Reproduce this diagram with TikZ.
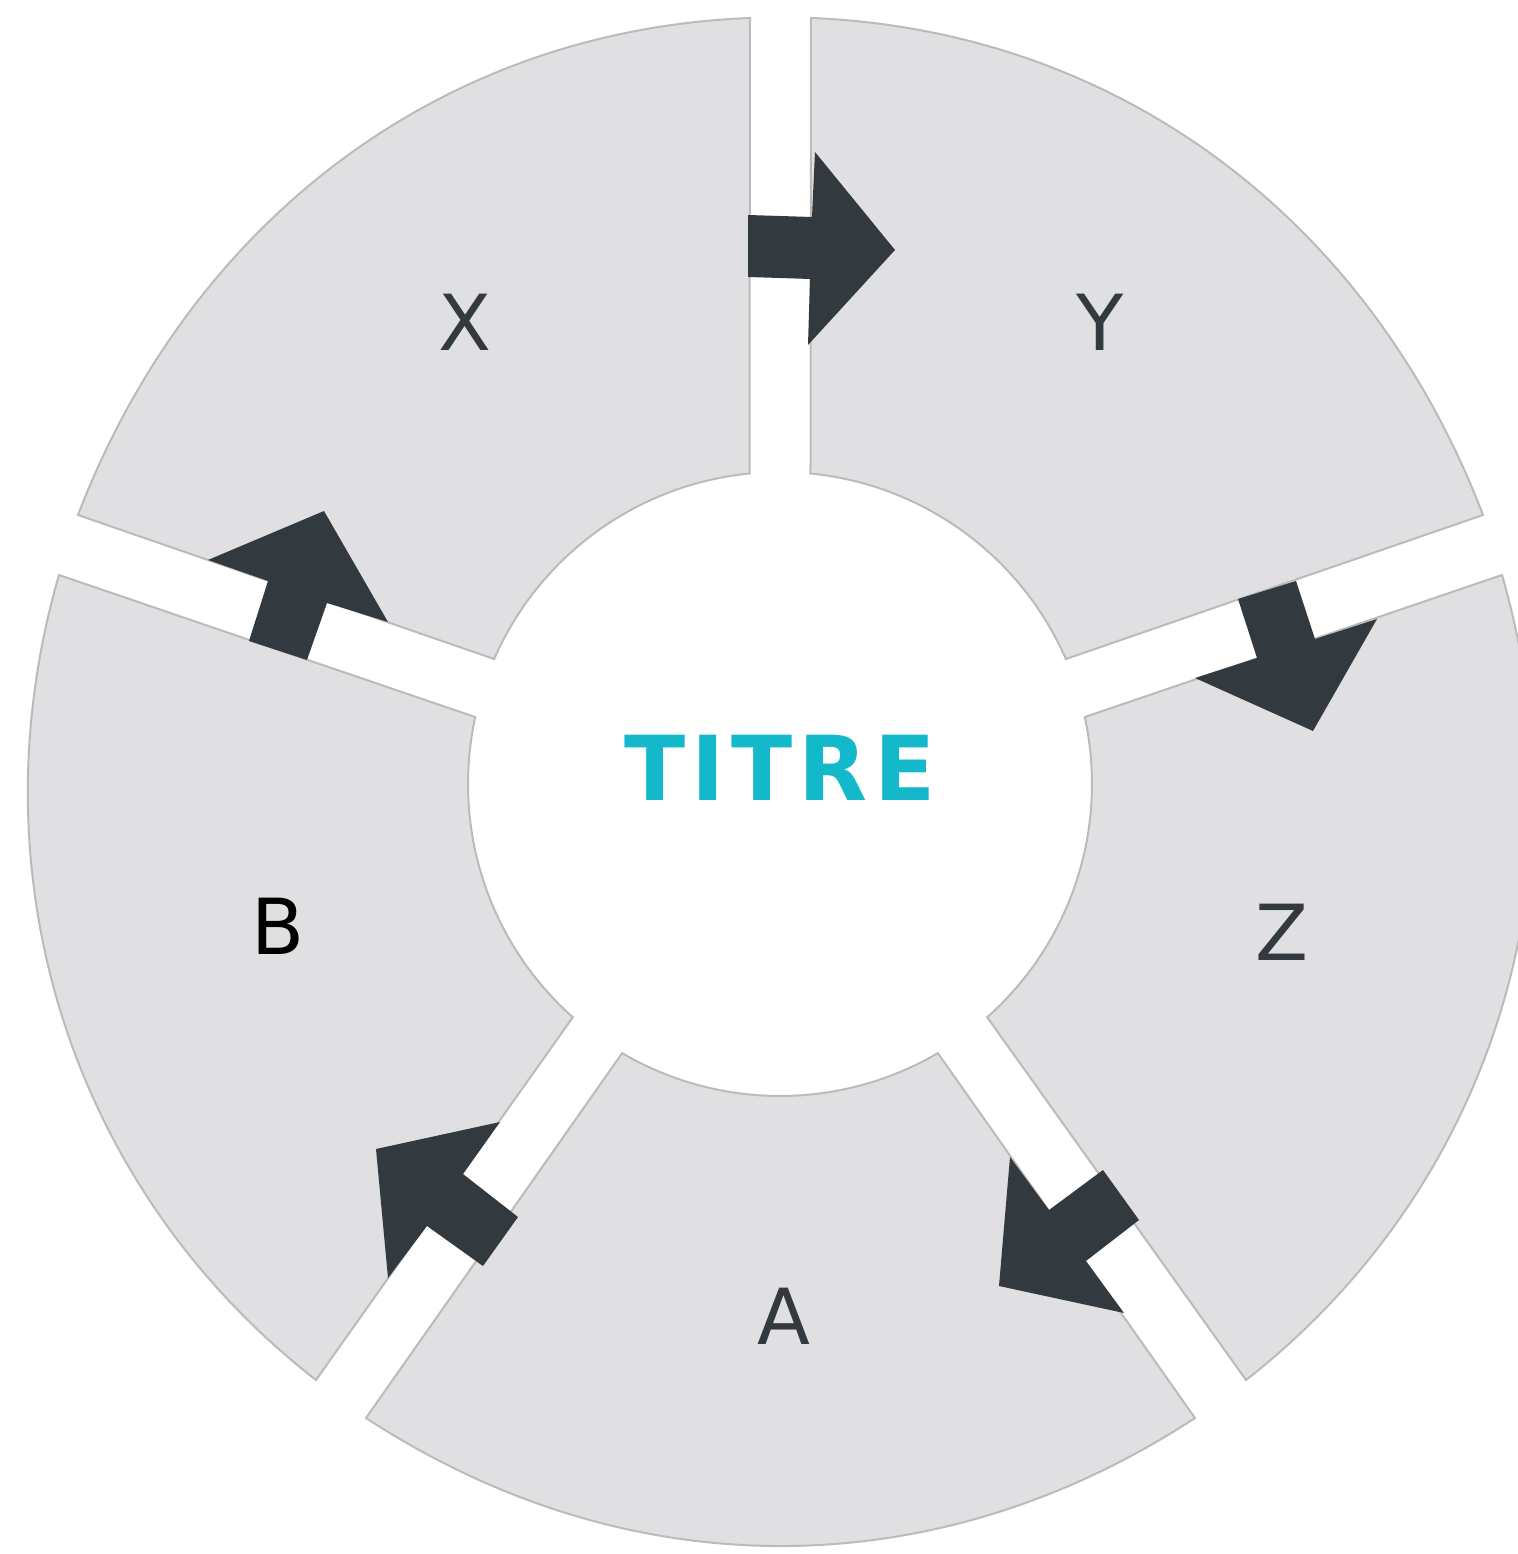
\documentclass[tikz,border=0pt]{standalone}
\usepackage{fontspec}
\setmainfont{DejaVu Sans}
\usepackage{tikz}
\usetikzlibrary{positioning}

\definecolor{ringfill}{HTML}{E0E0E2}
\definecolor{ringline}{HTML}{BBBBBD}
\definecolor{arrowdark}{HTML}{333A3F}
\definecolor{titreteal}{HTML}{13B9CA}

\def\rIn{312}
\def\hGap{30.5}
\def\hOut{312}

\begin{document}
\begin{tikzpicture}[x=0.2mm,y=0.2mm,
    segment/.style={fill=ringfill,draw=ringline,line width=0.4mm,line join=miter},
    blockarrow/.style={fill=arrowdark},
    seglabel/.style={inner sep=0pt,text=arrowdark,font=\fontsize{44}{50}\selectfont}]
        %
        \useasboundingbox (-780,-770) rectangle (737,784);
        \pgfmathsetmacro\dIn{asin(\hGap/\rIn)}
        %
        % ring segments X, Y, Z, A, B
        \foreach \ax/\ay/\aa/\bx/\by/\ba/\s/\e in {
            -702/269/159.03/-30/766/92.24/162/90,
            31/766/87.68/703/269/20.94/90/18,
            722/209/16.14/466/-596/-51.98/18/-54,
            415/-634/-56.79/-414/-634/-123.14/-54/-126,
            -464/-596/-127.90/-721/209/-196.17/-126/-198}
            \draw[segment] (\ax,\ay) .. controls +({\aa-90}:\hOut) and +({\ba+90}:\hOut) .. (\bx,\by)
                -- ({\e+\dIn}:\rIn) arc[start angle=\e+\dIn,end angle=\s-\dIn,radius=\rIn] -- cycle;
        %
        % arrows
        \fill[blockarrow] (-32,569) -- (32,567) -- (35,632) -- (115,534) -- (28,439) -- (30,505) -- (-32,507) -- cycle;
        \fill[blockarrow] (458,185) -- (516,203) -- (535,145) -- (597,165) -- (533,53) -- (415,106) -- (477,126) -- cycle;
        \fill[blockarrow] (230,-373) -- (269,-426) -- (323,-386) -- (359,-436) -- (306,-477) -- (344,-529) -- (219,-502) -- cycle;
        \fill[blockarrow] (-280,-338) -- (-404,-365) -- (-392,-494) -- (-353,-442) -- (-297,-482) -- (-262,-433) -- (-317,-390) -- cycle;
        \fill[blockarrow] (-456,273) -- (-392,162) -- (-453,181) -- (-473,124) -- (-531,143) -- (-512,203) -- (-572,224) -- cycle;
        %
        \node[seglabel] (labelX) at (-315,462) {X};
        \node[seglabel] (labelY) at (320,462) {Y};
        \node[seglabel] (labelZ) at (502,-148) {Z};
        \node[seglabel] (labelA) at (4,-532) {A};
        \node[seglabel,text=black] (labelB) at (-502,-142) {B};
        \node[inner sep=0pt,text=titreteal,font=\fontsize{51}{56}\selectfont\bfseries\addfontfeatures{LetterSpace=7}] (titre) at (0,16.5) {TITRE};
        %
\end{tikzpicture}
\end{document}
